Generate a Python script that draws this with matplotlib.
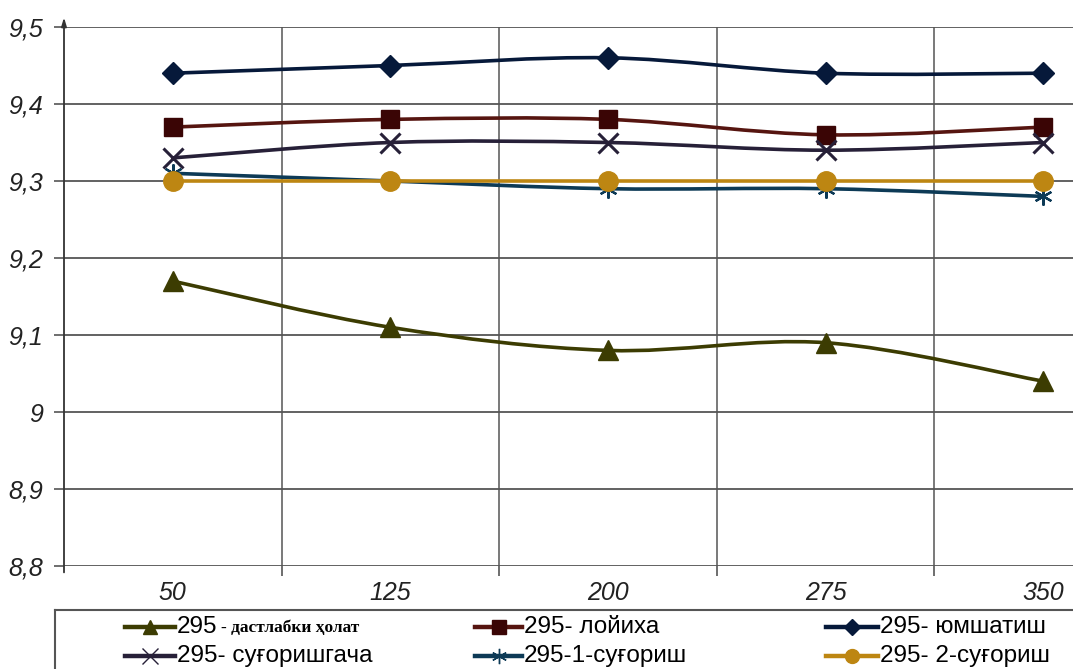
import matplotlib.pyplot as plt
import numpy as np
from matplotlib.path import Path
from matplotlib.patches import PathPatch
from matplotlib.lines import Line2D

x_labels = ['50', '125', '200', '275', '350']
y_ticks = [8.8, 8.9, 9.0, 9.1, 9.2, 9.3, 9.4, 9.5]
y_tick_labels = ['8,8', '8,9', '9', '9,1', '9,2', '9,3', '9,4', '9,5']

dastlabki = [9.17, 9.11, 9.08, 9.09, 9.04]
loyiha = [9.37, 9.38, 9.38, 9.36, 9.37]
yumshatish = [9.44, 9.45, 9.46, 9.44, 9.44]
sugorishgacha = [9.33, 9.35, 9.35, 9.34, 9.35]
sugorish1 = [9.31, 9.30, 9.29, 9.29, 9.28]
sugorish2 = [9.30, 9.30, 9.30, 9.30, 9.30]

names = ['295 - дастлабки ҳолат', '295- лойиха', '295- юмшатиш',
         '295- суғоришгача', '295-1-суғориш', '295- 2-суғориш']
series = [dastlabki, loyiha, yumshatish, sugorishgacha, sugorish1, sugorish2]
colors = ['#3c3c02', '#3a0505', '#06193a', '#272038', '#0d3a56', '#bd8612']
line_colors = ['#3c3c02', '#561510', '#06193a', '#272038', '#0d3a56', '#bd8612']
markers = ['^', 's', 'D', 'x', '*', 'o']
msizes = [15, 13, 11, 14, 13, 14]

plt.rcParams['font.family'] = ['Liberation Sans', 'DejaVu Sans']

fig = plt.figure(figsize=(10.73, 6.69), dpi=100)
ax = fig.add_axes([64 / 1073, 103 / 669, 1088 / 1073, 539 / 669])

xs = np.arange(len(x_labels))


def smooth_path(x, y):
    # Catmull-Rom style bezier segments (smoothed line)
    pts = np.column_stack([x, y]).astype(float)
    verts = [pts[0]]
    codes = [Path.MOVETO]
    n = len(pts)
    for i in range(n - 1):
        p0 = pts[i - 1] if i > 0 else pts[i]
        p1 = pts[i]
        p2 = pts[i + 1]
        p3 = pts[i + 2] if i + 2 < n else pts[i + 1]
        c1 = p1 + (p2 - p0) / 6
        c2 = p2 - (p3 - p1) / 6
        verts += [c1, c2, p2]
        codes += [Path.CURVE4] * 3
    return Path(verts, codes)


for vals, col, lcol, m, ms in zip(series, colors, line_colors, markers, msizes):
    ax.add_patch(PathPatch(smooth_path(xs, vals), facecolor='none', edgecolor=lcol,
                           lw=2.6, transform=ax.transData, zorder=3))
    if m == 'x':
        ax.plot(xs, vals, ls='none', marker='x', ms=ms, mew=2.2, color=col, zorder=4)
    elif m == '*':
        ax.plot(xs, vals, ls='none', marker=(6, 2, 0), ms=ms, mew=1.6, color=col, zorder=4)
    else:
        ax.plot(xs, vals, ls='none', marker=m, ms=ms, color=col, zorder=4)

ax.set_xlim(-0.5, 4.5)
ax.set_ylim(8.8, 9.5)
ax.set_xticks(xs)
ax.set_xticklabels(x_labels, fontsize=18, style='italic', color='#222222')
ax.set_xticks(xs[:-1] + 0.5, minor=True)
ax.tick_params(axis='x', which='major', length=0, pad=11)
ax.tick_params(axis='x', which='minor', length=7, width=1.2, color='#555555')
ax.set_yticks(y_ticks)
ax.set_yticklabels(y_tick_labels, fontsize=18, style='italic', color='#222222')
ax.tick_params(axis='y', length=7, width=1.2, color='#555555', pad=8)

for s in ax.spines.values():
    s.set_visible(False)
for yv in y_ticks:
    ax.axhline(yv, color='#555555', lw=1.3, zorder=1)
for xv in xs[:-1] + 0.5:
    ax.axvline(xv, color='#555555', lw=1.1, zorder=1)

# y axis line with arrow at the top
ax.annotate('', xy=(0, 1.023), xytext=(0, -0.017), xycoords='axes fraction',
            arrowprops=dict(arrowstyle='-|>,head_length=0.5,head_width=0.15',
                            color='#333333', lw=1.3), annotation_clip=False)

# legend box, one data unit = one pixel
lg = fig.add_axes([55 / 1073, -0.05, 1.0, (59 / 669) + 0.05])
lg.set_xlim(55, 55 + 1073)
lg.set_ylim(669 + 0.05 * 669, 610)
lg.set_xticks([])
lg.set_yticks([])
for s in lg.spines.values():
    s.set_color('#555555')
    s.set_linewidth(1.5)

handle_x = [(125, 175), (475, 522), (826, 878)]
rows = [627, 656]
for i, (name, col, lcol, m) in enumerate(zip(names, colors, line_colors, markers)):
    r, c = divmod(i, 3)
    x0, x1 = handle_x[c]
    y = rows[r]
    lg.add_line(Line2D([x0, x1], [y, y], color=lcol, lw=3.2))
    xm = (x0 + x1) / 2
    if m == 'x':
        lg.plot(xm, y, marker='x', ms=11, mew=1.0, color=col)
    elif m == '*':
        lg.plot(xm, y, marker=(6, 2, 0), ms=11, mew=1.0, color=col)
    else:
        lg.plot(xm, y, marker=m, ms=10 if m != 'D' else 8, color=col)
    if i == 0:
        lg.text(x1 + 2, y, '295', fontsize=17.5, va='center', ha='left')
        lg.text(x1 + 46, y + 1, '- дастлабки ҳолат', fontsize=12.5, fontweight='bold',
                va='center', ha='left', family=['Liberation Serif', 'DejaVu Serif'])
    else:
        lg.text(x1 + 2, y, name, fontsize=17.5, va='center', ha='left')

fig.savefig('out.png', dpi=100)
